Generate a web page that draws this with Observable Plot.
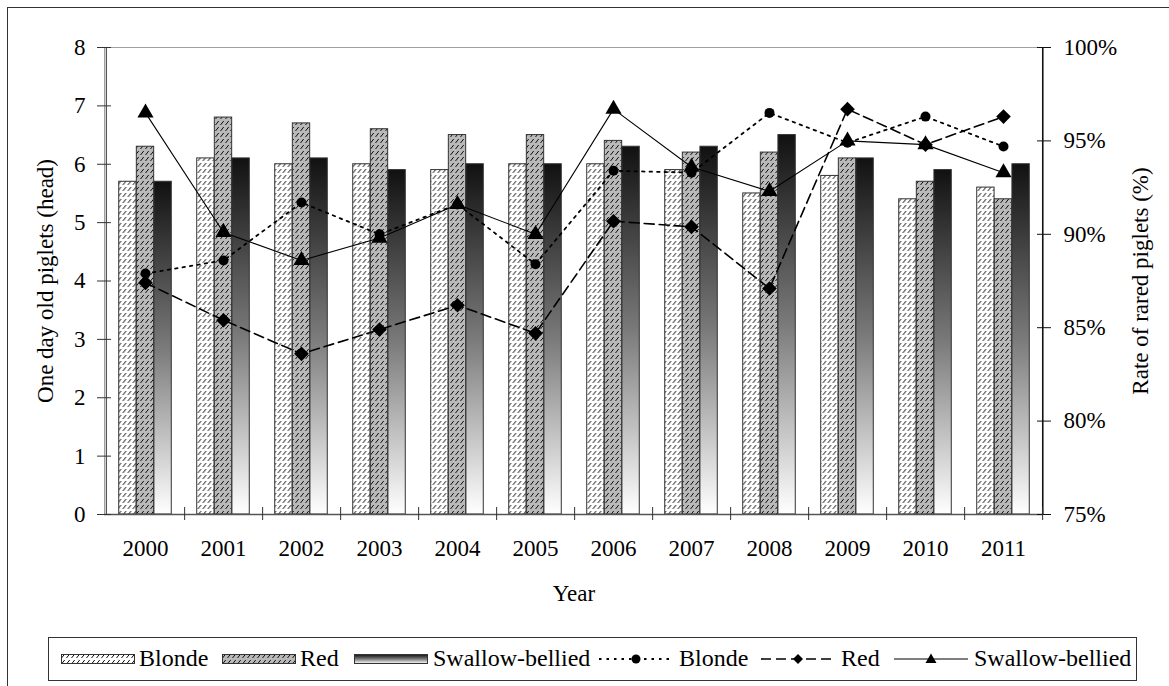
<!DOCTYPE html>
<html>
<head>
<meta charset="utf-8">
<script src="https://cdn.jsdelivr.net/npm/d3@7"></script>
<script src="https://cdn.jsdelivr.net/npm/@observablehq/plot@0.6"></script>
<style>
  body { margin: 0; background: #fff; font-family: "Liberation Serif", "DejaVu Serif", serif; }
  #wrap { position: relative; width: 1169px; height: 686px; overflow: hidden; background: #fff; }
  #border { position: absolute; left: 7px; top: 7px; width: 1200px; height: 700px; border: 1.5px solid #333; box-sizing: border-box; pointer-events: none; }
  #chart { position: absolute; left: 0; top: 0; }
  #legend { position: absolute; left: 48px; top: 637px; width: 1089px; height: 44px; border: 1.5px solid #333; box-sizing: border-box; background: #fff; }
  #legend .item { position: absolute; top: 0; height: 41px; display: flex; align-items: center; font-size: 24px; color: #000; white-space: nowrap; }
  #legend svg { display: block; }
</style>
</head>
<body>
<div id="wrap">
  <div id="chart"></div>
  <div id="legend"></div>
  <div id="border"></div>
</div>
<script>
// ---- data ----
const years = ["2000","2001","2002","2003","2004","2005","2006","2007","2008","2009","2010","2011"];
const breeds = ["Blonde", "Red", "Swallow-bellied"];
const blondeHead  = [5.7, 6.1, 6.0, 6.0, 5.9, 6.0, 6.0, 5.9, 5.5, 5.8, 5.4, 5.6];
const redHead     = [6.3, 6.8, 6.7, 6.6, 6.5, 6.5, 6.4, 6.2, 6.2, 6.1, 5.7, 5.4];
const swallowHead = [5.7, 6.1, 6.1, 5.9, 6.0, 6.0, 6.3, 6.3, 6.5, 6.1, 5.9, 6.0];
const blondeRate  = [87.9, 88.6, 91.7, 90.0, 91.6, 88.4, 93.4, 93.3, 96.5, 94.9, 96.3, 94.7];
const redRate     = [87.4, 85.4, 83.6, 84.9, 86.2, 84.7, 90.7, 90.4, 87.1, 96.7, 94.8, 96.3];
const swallowRate = [96.5, 90.1, 88.6, 89.8, 91.6, 90.0, 96.7, 93.6, 92.3, 95.0, 94.8, 93.3];
const headTicks = [0, 1, 2, 3, 4, 5, 6, 7, 8];
const rateTicks = [75, 80, 85, 90, 95, 100];
const headDomain = [0, 8];
const rateDomain = [75, 100];

// map the right-axis (rate %) onto the left (head) scale
const toHead = p => (p - rateDomain[0]) * (headDomain[1] - headDomain[0]) / (rateDomain[1] - rateDomain[0]);
const fromHead = h => rateDomain[0] + h * (rateDomain[1] - rateDomain[0]) / (headDomain[1] - headDomain[0]);

const heads = [blondeHead, redHead, swallowHead];
const rates = [blondeRate, redRate, swallowRate];
const barData = breeds.map((b, k) => years.map((y, i) => ({year: y, breed: b, value: heads[k][i]})));
const lineData = breeds.map((b, k) => years.map((y, i) => ({year: y, breed: b, rate: rates[k][i]})));

// ---- layout/style ----
const W = 1169, H = 630;
const mL = 104, mR = 126, mT = 47, mB = 116;
const band = (W - mL - mR) / years.length;
const bw = 17.6;
const inset = (band - bw) / 2;
const fills = ["url(#hatchWhite)", "url(#hatchGray)", "url(#gradDark)"];
const dashes = ["2.5,5", "10,5", null];
const widths = [1.8, 1.6, 1.1];
const symbols = ["circle", "diamond2", "triangle"];
const radii = [5, 6.6, 6];
const FS = 23;

const marks = [
  Plot.frame({stroke: "#a0a0a0"}),
  ...barData.map((d, k) => Plot.barY(d, {
    x: "year", y: "value", dx: (k - 1) * bw,
    insetLeft: inset, insetRight: inset,
    fill: fills[k], stroke: "#333", strokeWidth: 1
  })),
  Plot.ruleY([0], {stroke: "#555", strokeWidth: 1.3}),
  Plot.ruleX([years[0]], {dx: -band / 2, stroke: "#555", strokeWidth: 1.3}),
  Plot.ruleX([years[years.length - 1]], {dx: band / 2, stroke: "#111", strokeWidth: 1.3}),
  // left axis
  Plot.axisY({ticks: headTicks, tickSize: 14, dx: 7, tickFormat: () => "", label: null, stroke: "#333"}),
  Plot.axisY({ticks: headTicks, tickSize: 0, tickPadding: 19, fontSize: FS,
    label: "One day old piglets (head)", labelArrow: "none", labelAnchor: "center", labelOffset: 68}),
  // right axis
  Plot.axisY({anchor: "right", ticks: rateTicks.map(toHead), tickSize: 14, dx: -7, tickFormat: () => "", label: null, stroke: "#111"}),
  Plot.axisY({anchor: "right", ticks: rateTicks.map(toHead), tickSize: 0, tickPadding: 20, fontSize: FS,
    tickFormat: d => Math.round(fromHead(d)) + "%",
    label: "Rate of rared piglets (%)", labelArrow: "none", labelAnchor: "center", labelOffset: 104}),
  // bottom axis
  Plot.axisX({ticks: years, tickSize: 13, dx: band / 2, dy: -7, tickFormat: () => "", label: null, stroke: "#333"}),
  Plot.axisX({ticks: years, tickSize: 0, tickPadding: 25, fontSize: FS,
    label: "Year", labelArrow: "none", labelAnchor: "center", labelOffset: 86}),
  // lines
  ...lineData.map((d, k) => Plot.line(d, {
    x: "year", y: r => toHead(r.rate), stroke: "#000", strokeWidth: widths[k], strokeDasharray: dashes[k]
  })),
  ...lineData.map((d, k) => Plot.dot(d, {
    x: "year", y: r => toHead(r.rate), symbol: symbols[k], r: radii[k], fill: "#000", stroke: "none"
  }))
];

const chart = Plot.plot({
  width: W, height: H,
  marginLeft: mL, marginRight: mR, marginTop: mT, marginBottom: mB,
  style: {fontFamily: "'Liberation Serif', 'DejaVu Serif', serif", fontSize: FS + "px", color: "#000", background: "transparent", overflow: "visible"},
  x: {domain: years, padding: 0},
  y: {domain: headDomain},
  marks
});

// patterns & gradient
const defs = d3.select(chart).insert("defs", ":first-child");
function hatch(id, bg) {
  const p = defs.append("pattern").attr("id", id).attr("patternUnits", "userSpaceOnUse")
    .attr("width", 5).attr("height", 6);
  p.append("rect").attr("width", 5).attr("height", 6).attr("fill", bg);
  p.append("path").attr("d", "M0.5,5 L3.7,1").attr("stroke", "#111").attr("stroke-width", 1).attr("fill", "none");
}
hatch("hatchWhite", "#fff");
hatch("hatchGray", "#b9b9b9");
const g = defs.append("linearGradient").attr("id", "gradDark").attr("x1", 0).attr("y1", 0).attr("x2", 0).attr("y2", 1);
g.append("stop").attr("offset", 0).attr("stop-color", "#111");
g.append("stop").attr("offset", 0.5).attr("stop-color", "#7a7a7a");
g.append("stop").attr("offset", 1).attr("stop-color", "#fff");

document.getElementById("chart").appendChild(chart);

// ---- legend ----
const legend = document.getElementById("legend");
const swatchLeft = [12, 173, 305];
const textLeftBar = [90, 251, 384];
const lineLeft = [550, 712, 845];
const textLeftLine = [630, 792, 925];
const symPaths = {
  circle: '<circle cx="37" cy="10" r="4.5" fill="#000"/>',
  diamond2: '<path d="M37,5 L42,10 L37,15 L32,10 Z" fill="#000"/>',
  triangle: '<path d="M37,4.5 L42.5,14 L31.5,14 Z" fill="#000"/>'
};
breeds.forEach((b, k) => {
  const s = document.createElement("div");
  s.className = "item"; s.style.left = swatchLeft[k] + "px";
  s.innerHTML = `<svg width="74" height="12"><rect x="0.5" y="1.5" width="73" height="9" fill="${fills[k]}" stroke="#333" stroke-width="1"/></svg>`;
  legend.appendChild(s);
  const t = document.createElement("div");
  t.className = "item"; t.style.left = textLeftBar[k] + "px"; t.textContent = b;
  legend.appendChild(t);
});
breeds.forEach((b, k) => {
  const s = document.createElement("div");
  s.className = "item"; s.style.left = lineLeft[k] + "px";
  s.innerHTML = `<svg width="74" height="20"><line x1="0" y1="10" x2="74" y2="10" stroke="#000" stroke-width="${widths[k]}" ${dashes[k] ? `stroke-dasharray="${dashes[k]}"` : ""}/>${symPaths[symbols[k]]}</svg>`;
  legend.appendChild(s);
  const t = document.createElement("div");
  t.className = "item"; t.style.left = textLeftLine[k] + "px"; t.textContent = b;
  legend.appendChild(t);
});
</script>
</body>
</html>
